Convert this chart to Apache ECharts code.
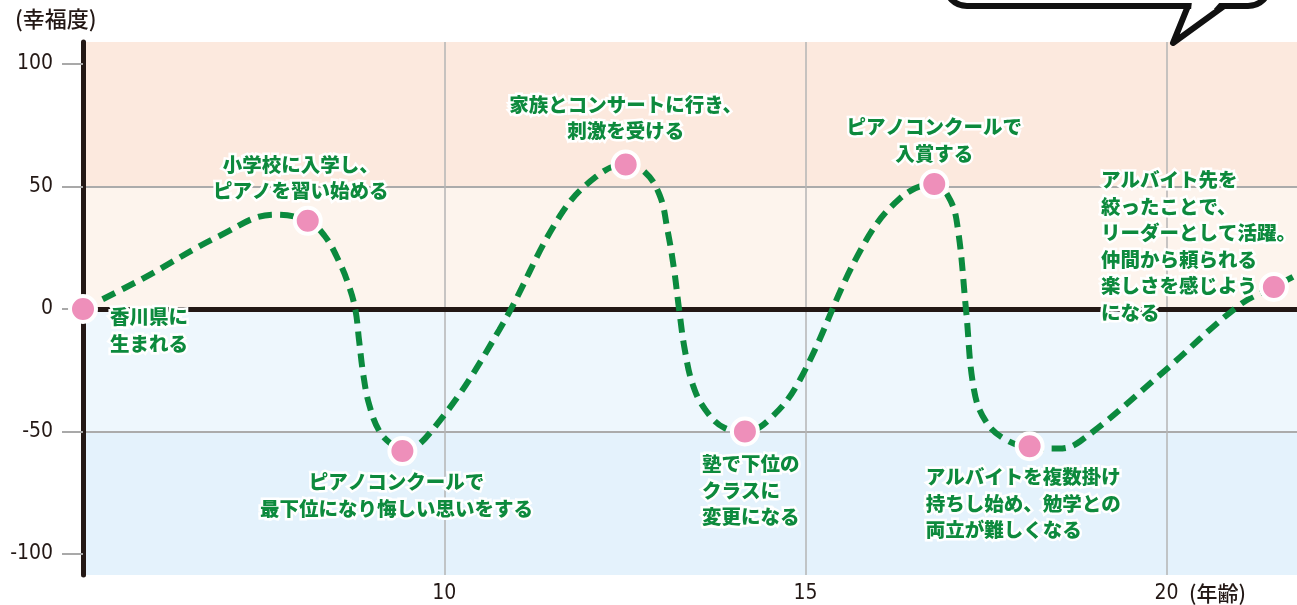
<!DOCTYPE html>
<html>
<head>
<meta charset="utf-8">
<script src="https://cdn.jsdelivr.net/npm/echarts@6/dist/echarts.min.js"></script>
<style>
html,body{margin:0;padding:0;background:#fff;}
#chart{width:1297px;height:605px;}
</style>
</head>
<body>
<div id="chart"></div>
<script>
// ---- data ----
var eventAges = [5, 8.11, 9.42, 12.51, 14.16, 16.78, 18.1, 21.48];
var eventHappiness = [0, 36, -58, 59, -50, 51, -56, 9];
var eventTexts = [
  '香川県に\n生まれる',
  '小学校に入学し、\nピアノを習い始める',
  'ピアノコンクールで\n最下位になり悔しい思いをする',
  '家族とコンサートに行き、\n刺激を受ける',
  '塾で下位の\nクラスに\n変更になる',
  'ピアノコンクールで\n入賞する',
  'アルバイトを複数掛け\n持ちし始め、勉学との\n両立が難しくなる',
  'アルバイト先を\n絞ったことで、\nリーダーとして活躍。\n仲間から頼られる\n楽しさを感じよう\nになる'
];
var curveAges = [5, 5.8, 6.9, 7.65, 8.11, 8.34, 8.54, 8.68, 8.77, 8.82, 8.88, 8.96, 9.1, 9.28, 9.42,
  9.9, 10.76, 11.6, 12.1, 12.51, 12.77, 12.98, 13.09, 13.18, 13.25, 13.33, 13.44, 13.61, 13.88, 14.16,
  14.5, 14.92, 15.76, 16.3, 16.78, 17.0, 17.11, 17.22, 17.33, 17.49, 17.75, 18.1, 18.5, 18.8, 19.9, 21.0, 21.48, 21.8];
var curveValues = [0, 12, 30, 38.5, 36, 30, 19.6, 9.4, -0.4, -12.7, -27, -39, -49.8, -55.5, -58,
  -47, -8.6, 38, 54, 59, 56, 46.5, 32, 16, -0.4, -17, -31, -41, -48.6, -50,
  -45, -29, 24, 45, 51, 44.5, 32, -0.4, -33, -45.7, -53, -56.5, -57, -54, -27, 1.5, 9, 14];
var xTickLabels = [10, 15, 20];
var yTickLabels = [-100, -50, 0, 50, 100];
var bandEdges = [109, 50, 0, -50, -108.6];
var yTitle = '(幸福度)';
var xTitle = '(年齢)';

// ---- styling / layout ----
var bandColors = ['#fce9de', '#fdf4ed', '#eef7fd', '#e4f2fc'];
var labelLayout = [
  {align: 'left', offset: [27, 21]},
  {align: 'center', offset: [-7, -43]},
  {align: 'center', offset: [-6, 44]},
  {align: 'center', offset: [0, -47]},
  {align: 'left', offset: [-43, 59]},
  {align: 'center', offset: [0, -44]},
  {align: 'left', offset: [-104, 57]},
  {align: 'left', offset: [-173, -41]}
];

var cjk = '"Noto Sans CJK JP", "Noto Sans", sans-serif';
var narrow = '"Liberation Sans Narrow", "DejaVu Sans Condensed", Roboto, sans-serif';

var curveData = curveAges.map(function (a, i) { return [a, curveValues[i]]; });
var pointData = eventAges.map(function (a, i) {
  var l = labelLayout[i];
  return {
    value: [a, eventHappiness[i]],
    label: {
      show: true,
      formatter: eventTexts[i],
      position: 'inside',
      align: l.align,
      verticalAlign: 'middle',
      offset: l.offset
    }
  };
});
var bands = [];
for (var b = 0; b < bandColors.length; b++) {
  bands.push([{yAxis: bandEdges[b], itemStyle: {color: bandColors[b]}}, {yAxis: bandEdges[b + 1]}]);
}

var chart = echarts.init(document.getElementById('chart'));
chart.setOption({
  animation: false,
  title: {
    text: yTitle,
    left: 10, top: 3,
    textStyle: {fontFamily: cjk, fontSize: 22, fontWeight: 500, color: '#231815'}
  },
  grid: {left: 83, right: 0, top: 42, bottom: 30},
  xAxis: {
    type: 'value',
    z: 2,
    min: 5, max: 21.8, interval: 5,
    axisLine: {show: false},
    axisTick: {show: false},
    axisLabel: {
      customValues: xTickLabels,
      margin: 8,
      fontFamily: narrow, fontSize: 21, color: '#231815',
      formatter: function (v) {
        return v === 20 ? '{pad|}20{n|' + xTitle + '}' : String(v);
      },
      rich: {
        pad: {width: 76},
        n: {width: 76, align: 'left', padding: [0, 0, 0, 1], fontFamily: cjk, fontSize: 21, fontWeight: 500, color: '#231815'}
      }
    },
    splitLine: {show: true, showMinLine: false, showMaxLine: false, lineStyle: {color: '#b4b4b4', width: 1.5}}
  },
  yAxis: {
    type: 'value',
    z: 2,
    min: bandEdges[bandEdges.length - 1], max: bandEdges[0],
    axisLine: {show: true, lineStyle: {color: '#231815', width: 5, cap: 'round'}},
    axisTick: {show: true, customValues: yTickLabels, length: 21, lineStyle: {color: '#a9a9a9', width: 2}},
    axisLabel: {customValues: yTickLabels, margin: 30, fontFamily: narrow, fontSize: 21, color: '#231815'},
    splitLine: {show: true, showMinLine: false, showMaxLine: false, lineStyle: {color: '#ababab', width: 2}}
  },
  series: [
    {
      type: 'line',
      data: curveData,
      smooth: 0.4,
      showSymbol: false,
      symbol: 'none',
      z: 4,
      lineStyle: {color: '#0b8a3e', width: 6, type: [14, 8], cap: 'butt'},
      markArea: {
        silent: true,
        z: 1,
        data: bands
      },
      markLine: {
        silent: true,
        symbol: 'none',
        z: 3,
        label: {show: false},
        lineStyle: {color: '#231815', width: 5, type: 'solid'},
        data: [{yAxis: 0}]
      }
    },
    {
      type: 'scatter',
      data: pointData,
      z: 6,
      symbolSize: 26,
      itemStyle: {color: '#ee8fba', borderColor: '#ffffff', borderWidth: 4, opacity: 1},
      label: {
        fontFamily: cjk, fontSize: 19.5, fontWeight: 900, color: '#0d8a3d',
        lineHeight: 26.5, textBorderColor: '#ffffff', textBorderWidth: 5
      }
    }
  ],
  graphic: [
    {
      type: 'rect', z: 100,
      shape: {x: 945, y: -60, width: 325, height: 66, r: 22},
      style: {fill: '#ffffff', stroke: '#111111', lineWidth: 6}
    },
    {
      type: 'polygon', z: 101,
      shape: {points: [[1188, 6], [1173, 43], [1224, 6]]},
      style: {fill: '#ffffff', stroke: '#111111', lineWidth: 6, lineJoin: 'round'}
    },
    {
      type: 'polygon', z: 102,
      shape: {points: [[1192, 1], [1221, 1], [1213, 10], [1191, 10]]},
      style: {fill: '#ffffff'}
    }
  ]
});
</script>
</body>
</html>
